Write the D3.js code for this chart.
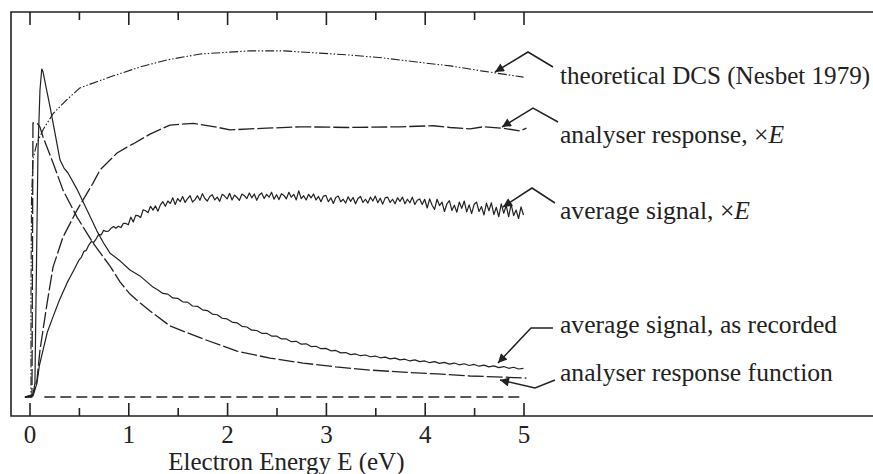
<!DOCTYPE html>
<html><head><meta charset="utf-8">
<script src="https://cdn.jsdelivr.net/npm/d3@7"></script>
<style>
html,body{margin:0;padding:0;background:#fff;}
</style></head>
<body><svg id="chart" width="873" height="474"></svg>
<script>
// ---- data (energy E in eV, signal in arbitrary units) ----
const xTicksMajor = [0,1,2,3,4,5];
const xTicksMinor = [0.5,1.5,2.5,3.5,4.5];
const xTitle = "Electron Energy E (eV)";

const dcs = [[-0.05,0],[0.015,0],[0.015,28],[0.02,56],[0.035,68],[0.075,72.5],[0.14,76.5],[0.24,81],[0.38,85],[0.51,88.3],[0.82,91.5],[1.12,94.3],[1.39,96.3],[1.73,98],[2.23,98.9],[2.57,98.9],[2.91,98.3],[3.24,97.7],[3.57,96.9],[3.92,95.7],[4.26,94.6],[4.59,93.1],[5.0,91.4]];

const responseXE = [[-0.045,0],[0.035,0.6],[0.076,4.9],[0.106,13.4],[0.177,26.6],[0.238,37.1],[0.339,45.7],[0.481,53.4],[0.643,61.1],[0.714,64.9],[0.815,67.7],[0.886,69.7],[0.987,71.4],[1.048,72.3],[1.22,75.1],[1.422,77.7],[1.658,78.2],[1.895,77.1],[2.03,76.3],[2.23,76.6],[2.40,76.8],[2.738,77.2],[3.244,77.0],[3.75,77.2],[4.087,77.5],[4.256,77.0],[4.459,76.6],[4.593,77.2],[4.796,76.8],[4.965,76.0],[5.03,76.8]];

const responseFn = [[-0.045,0],[0.025,0],[0.035,78.3],[0.086,78],[0.106,77.1],[0.137,74.3],[0.238,66.9],[0.339,59.1],[0.481,51.4],[0.643,44],[0.815,37.4],[0.916,32.9],[1.017,29.4],[1.118,26.9],[1.22,24.6],[1.422,20.3],[1.756,16.6],[2.10,13.1],[2.434,11.1],[2.768,9.7],[3.10,8.6],[3.446,7.7],[3.78,7.1],[4.125,6.6],[4.46,6.0],[4.79,5.7],[5.03,5.4]];

const signalXE = [[-0.045,0],[0.035,0.3],[0.076,4],[0.10,9],[0.137,13.4],[0.18,18.5],[0.238,22.9],[0.30,27.5],[0.38,32.6],[0.44,35.8],
[0.500,39.1],[0.525,39.9],[0.550,41.6],[0.575,41.9],[0.600,43.4],[0.625,44.4],[0.650,44.2],[0.675,45.2],[0.700,46.4],[0.725,46.3],
[0.750,47.6],[0.775,47.3],[0.800,47.4],[0.825,48.2],[0.850,48.7],[0.875,48.2],[0.900,48.8],[0.925,48.4],[0.950,49.6],[0.975,49.6],
[1.000,49.2],[1.025,51.4],[1.050,50.0],[1.075,51.9],[1.100,51.8],[1.125,51.3],[1.150,53.5],[1.175,53.2],[1.200,52.7],[1.225,54.5],
[1.250,53.4],[1.275,54.6],[1.300,53.1],[1.325,54.9],[1.350,55.8],[1.375,54.5],[1.400,56.0],[1.425,55.3],[1.450,56.9],[1.475,55.0],
[1.500,56.7],[1.525,55.8],[1.550,57.3],[1.575,55.6],[1.600,56.7],[1.625,57.5],[1.650,55.7],[1.675,56.4],[1.700,57.5],[1.725,56.2],
[1.750,58.1],[1.775,56.7],[1.800,56.0],[1.825,57.3],[1.850,57.8],[1.875,56.3],[1.900,57.1],[1.925,55.9],[1.950,57.9],[1.975,57.4],
[2.000,56.6],[2.025,58.2],[2.050,56.3],[2.075,57.7],[2.100,57.0],[2.125,56.2],[2.150,58.0],[2.175,57.5],[2.200,56.7],[2.225,58.3],
[2.250,56.9],[2.275,58.0],[2.300,56.2],[2.325,57.7],[2.350,58.3],[2.375,56.7],[2.400,57.9],[2.425,57.1],[2.450,58.5],[2.475,56.5],
[2.500,57.8],[2.525,56.4],[2.550,58.1],[2.575,57.6],[2.600,56.6],[2.625,58.5],[2.650,57.1],[2.675,57.9],[2.700,56.3],[2.725,58.9],
[2.750,56.7],[2.775,57.5],[2.800,56.3],[2.825,57.9],[2.850,56.9],[2.875,58.0],[2.900,56.3],[2.925,57.3],[2.950,55.8],[2.975,57.4],
[3.000,57.6],[3.025,55.8],[3.050,56.9],[3.075,55.3],[3.100,57.0],[3.125,57.4],[3.150,55.8],[3.175,56.5],[3.200,55.4],[3.225,57.2],
[3.250,55.9],[3.275,57.0],[3.300,55.2],[3.325,56.7],[3.350,57.3],[3.375,55.6],[3.400,56.5],[3.425,55.4],[3.450,57.1],[3.475,56.0],
[3.500,57.4],[3.525,55.5],[3.550,56.8],[3.575,55.1],[3.600,56.9],[3.625,57.1],[3.650,55.6],[3.675,56.5],[3.700,55.2],[3.725,56.9],
[3.750,55.9],[3.775,57.1],[3.800,55.2],[3.825,56.5],[3.850,55.5],[3.875,57.1],[3.900,55.0],[3.925,56.2],[3.950,56.6],[3.975,55.0],
[4.000,56.5],[4.025,54.0],[4.050,56.6],[4.075,54.8],[4.100,53.6],[4.125,56.5],[4.150,54.7],[4.175,55.7],[4.200,53.0],[4.225,55.2],
[4.250,56.1],[4.275,53.3],[4.300,54.8],[4.325,52.8],[4.350,55.7],[4.375,53.9],[4.400,56.0],[4.425,52.9],[4.450,54.9],[4.475,52.4],
[4.500,55.0],[4.525,55.7],[4.550,53.0],[4.575,54.4],[4.600,52.0],[4.625,55.4],[4.650,53.2],[4.675,55.5],[4.700,52.1],[4.725,54.2],
[4.750,51.5],[4.775,55.2],[4.800,52.5],[4.825,54.7],[4.850,51.5],[4.875,55.1],[4.900,51.8],[4.925,53.4],[4.950,51.0],[4.975,54.3],[5.000,52.0]];

const recorded = [[-0.045,0],[0.035,0.6],[0.055,4],[0.066,27.7],[0.086,70.6],[0.106,87.7],[0.124,93.7],[0.137,92.9],[0.167,88.6],[0.208,82.9],[0.258,75.4],[0.309,67.7],[0.349,65.4],[0.39,64],[0.48,59.4],[0.582,53.4],[0.683,47.4],[0.75,44.0],[0.815,41.1],[0.916,38.9],[1.017,36.3],[1.118,34.6],[1.25,31.4],
[1.30,30.6],[1.35,29.6],[1.40,29.4],[1.45,28.3],[1.50,28.2],[1.55,27.2],[1.60,27.1],[1.65,26.0],[1.70,25.9],[1.75,24.9],[1.80,24.7],[1.85,23.7],[1.90,23.5],[1.95,22.5],[2.00,22.3],[2.05,21.4],[2.10,21.2],[2.15,20.2],[2.20,20.0],[2.25,19.1],[2.30,19.0],[2.35,18.2],[2.40,18.2],[2.45,17.4],[2.50,17.4],[2.55,16.6],[2.60,16.6],[2.65,15.8],[2.70,15.9],[2.75,15.1],[2.80,15.2],[2.85,14.4],[2.90,14.5],[2.95,13.8],[3.00,13.9],[3.05,13.2],[3.10,13.3],[3.15,12.6],[3.20,12.7],[3.25,12.1],[3.30,12.3],[3.35,11.8],[3.40,12.0],[3.45,11.5],[3.50,11.7],[3.55,11.2],[3.60,11.4],[3.65,10.9],[3.70,11.1],[3.75,10.6],[3.80,10.8],[3.85,10.3],[3.90,10.6],[3.95,10.1],[4.00,10.3],[4.05,9.8],[4.10,10.1],[4.15,9.6],[4.20,9.9],[4.25,9.4],[4.30,9.7],[4.35,9.2],[4.40,9.5],[4.45,9.0],[4.50,9.3],[4.55,8.8],[4.60,9.1],[4.65,8.6],[4.70,8.9],[4.75,8.4],[4.80,8.7],[4.85,8.2],[4.90,8.5],[4.95,8.0],[5.00,8.2]];

const zeroLine = [[0.15,0],[5.0,0]];

const labelTexts = ["theoretical DCS (Nesbet 1979)", "analyser response, ×", "average signal, ×", "average signal, as recorded", "analyser response function"];

// ---- layout ----
const FONT = '"Liberation Serif","Times New Roman",serif';
const svg = d3.select("#chart");
const x = d3.scaleLinear().domain([0,5]).range([29.5,523.5]);
const y = d3.scaleLinear().domain([0,100]).range([397,47]);
const frame = {left:11, top:12, right:890, bottom:416};
const ink = "#222";

svg.append("path")
  .attr("d", `M${frame.right},${frame.top}H${frame.left}V${frame.bottom}H${frame.right}`)
  .attr("fill","none").attr("stroke",ink).attr("stroke-width",1.6);

function styleAxis(g){ g.select(".domain").remove(); g.selectAll("line").attr("stroke",ink).attr("stroke-width",1.6); }

svg.append("g").attr("transform",`translate(0,${frame.bottom})`)
  .call(d3.axisBottom(x).tickValues(xTicksMajor).tickSize(-13).tickPadding(9).tickFormat(d3.format("d")))
  .call(styleAxis)
  .call(g=>g.attr("font-family",FONT).attr("font-size",25).selectAll("text").attr("fill",ink));
svg.append("g").attr("transform",`translate(0,${frame.bottom})`)
  .call(d3.axisBottom(x).tickValues(xTicksMinor).tickSize(-8).tickFormat(""))
  .call(styleAxis);
svg.append("g").attr("transform",`translate(0,${frame.top})`)
  .call(d3.axisTop(x).tickValues(xTicksMajor).tickSize(-13).tickFormat(""))
  .call(styleAxis);
svg.append("g").attr("transform",`translate(0,${frame.top})`)
  .call(d3.axisTop(x).tickValues(xTicksMinor).tickSize(-8).tickFormat(""))
  .call(styleAxis);

svg.append("text").attr("x",x(2.6)).attr("y",470).attr("text-anchor","middle")
  .attr("font-family",FONT).attr("font-size",25).attr("fill",ink).text(xTitle);

// ---- curves ----
const line = d3.line().x(d=>x(d[0])).y(d=>y(d[1]));
const series = [
  {data:zeroLine, dash:"11,5", w:1.3},
  {data:dcs, dash:"9,2,1.5,2,1.5,2", w:1.1},
  {data:responseXE, dash:"16,3", w:1.3},
  {data:responseFn, dash:"16,3", w:1.3},
  {data:recorded, dash:null, w:1.2},
  {data:signalXE, dash:null, w:1.2}
];
svg.selectAll("path.curve").data(series).join("path").attr("class","curve")
  .attr("d",d=>line(d.data)).attr("fill","none").attr("stroke",ink)
  .attr("stroke-width",d=>d.w).attr("stroke-dasharray",d=>d.dash)
  .attr("stroke-linejoin","round");

// ---- annotations ----
svg.append("defs").append("marker").attr("id","ah").attr("viewBox","0 0 10 10")
  .attr("refX",10).attr("refY",5).attr("markerWidth",11).attr("markerHeight",9)
  .attr("markerUnits","userSpaceOnUse").attr("orient","auto")
  .append("path").attr("d","M0,0L10,5L0,10Z").attr("fill",ink);

const annot = [
  {pts:[[553,67],[528,52],[495,72]], tx:560, ty:84, i:0, fs:25.1},
  {pts:[[558,122],[533,108],[502,127]], tx:560, ty:143, i:1, it:true, fs:25.6},
  {pts:[[555,203],[532,188],[503,207]], tx:560, ty:219, i:2, it:true, fs:25.6},
  {pts:[[553,328],[531,328],[498,363]], tx:560, ty:333, i:3, fs:25.6},
  {pts:[[555,380],[535,388],[500,380]], tx:560, ty:381, i:4, fs:25.6}
];
annot.forEach(a=>{
  svg.append("path").attr("d",d3.line()(a.pts)).attr("fill","none").attr("stroke",ink)
    .attr("stroke-width",1.5).attr("marker-end","url(#ah)");
  const t = svg.append("text").attr("x",a.tx).attr("y",a.ty).attr("font-family",FONT)
    .attr("font-size",a.fs).attr("fill",ink).text(labelTexts[a.i]);
  if(a.it) t.append("tspan").attr("font-style","italic").text("E");
});
</script></body></html>
